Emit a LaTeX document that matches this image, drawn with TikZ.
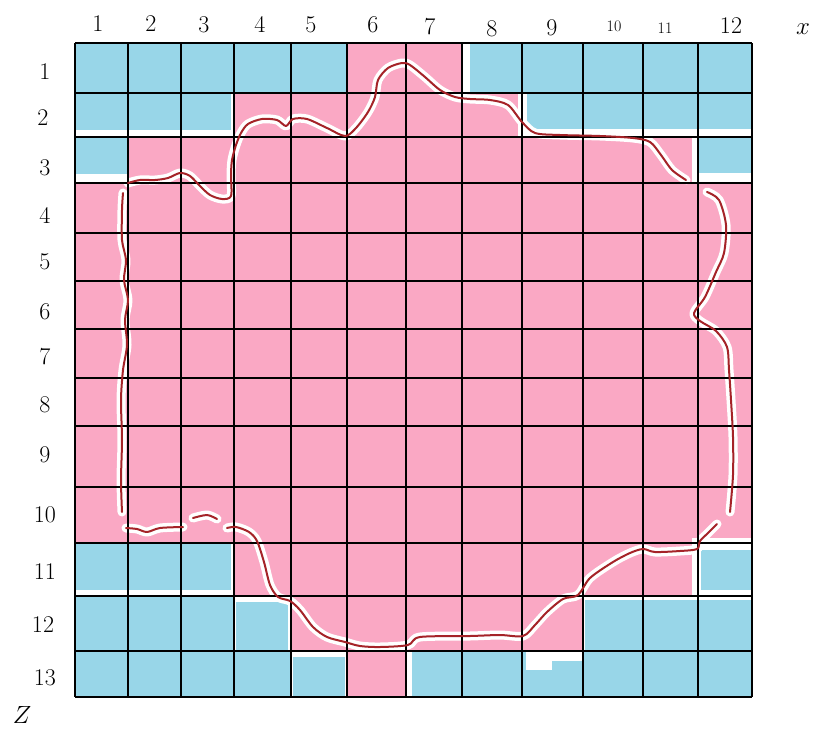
\documentclass[tikz,border=0pt]{standalone}
\usepackage{fontspec}
\definecolor{cellblue}{RGB}{152,214,232}
\definecolor{cellpink}{RGB}{250,168,196}
\definecolor{curvered}{RGB}{165,35,40}
\begin{document}
\begin{tikzpicture}[x=1pt,y=-1pt,
  lab/.style={font=\fontsize{24}{26}\selectfont, inner sep=0pt},
  smalllab/.style={font=\fontsize{16}{18}\selectfont, inner sep=0pt},
  gridline/.style={line width=2.6pt, black},
  halo/.style={white, line width=9pt, line cap=round, line join=round},
  outline/.style={curvered, line width=2pt, line cap=round, line join=round}]
\useasboundingbox (0,0) rectangle (814,731);
\fill[white] (0,0) rectangle (814,731);
% pink region
\fill[cellpink] (75,43) rectangle (752,697);
% blue blocks with white gaps
\fill[white] (75,43) rectangle (347,93);
\fill[cellblue] (75,43) rectangle (347,93);
\fill[white] (462,43) rectangle (752,93);
\fill[cellblue] (470,43) rectangle (752,93);
\fill[white] (75,93) rectangle (234,137);
\fill[cellblue] (75,93) rectangle (231,130);
\fill[white] (518,93) rectangle (752,137);
\fill[cellblue] (527,93) rectangle (752,129);
\fill[white] (75,137) rectangle (128,183);
\fill[cellblue] (75,137) rectangle (127,174);
\fill[white] (692,137) rectangle (752,183);
\fill[cellblue] (698,137) rectangle (752,173);
\fill[white] (75,543) rectangle (234,596);
\fill[cellblue] (75,543) rectangle (231,590);
\fill[white] (692,538) rectangle (752,596);
\fill[cellblue] (701,550) rectangle (752,590);
\fill[white] (75,596) rectangle (291,651);
\fill[cellblue] (75,596) rectangle (234,651);
\fill[cellblue] (236,602) rectangle (288,651);
\fill[white] (583,596) rectangle (752,651);
\fill[cellblue] (585,600) rectangle (752,651);
\fill[white] (75,651) rectangle (347,697);
\fill[cellblue] (75,651) rectangle (291,697);
\fill[cellblue] (293,657) rectangle (345,697);
\fill[white] (406,651) rectangle (752,697);
\fill[cellblue] (412,651) rectangle (752,697);
\fill[white] (526,651) rectangle (552,670);
\fill[white] (552,651) rectangle (583,661);
% curve paths
\def\pathA{(128,183) (140,180) (155,180) (168,178) (180,173) (190,176) (200,186) (210,195) (222,199) (231,196) (231,175) (232,160) (236,145) (241,133) (248,124) (262,119) (277,120) (286,126) (293,119) (307,119) (327,128) (345,136) (356,128) (368,112) (375,97) (378,80) (388,68) (402,63) (410,65) (425,77) (440,90) (455,97) (470,99) (490,100) (508,105) (522,122) (535,133) (560,135) (600,136) (633,138) (650,142) (661,155) (672,170) (686,180)}
\def\pathB{(707,192) (719,200) (726,225) (724,253) (716,272) (705,297) (694,313) (700,321) (716,331) (727,347) (729,370) (731,400) (733,437) (733,475) (730,512)}
\def\pathC{(717,524) (708,533) (700,541) (697,549) (680,551) (655,552) (643,549) (630,553) (613,562) (590,578) (578,595) (563,599) (547,612) (535,625) (523,636) (500,635) (470,636) (420,637) (408,645) (380,647) (360,646) (345,642) (327,637) (313,627) (300,610) (290,601) (278,597) (270,585) (264,562) (257,541) (249,532) (236,527) (227,528)}
\def\pathD{(193,518) (207,515) (217,519)}
\def\pathE{(126,528) (137,529) (147,532) (160,528) (183,527)}
\def\pathF{(122,512) (121,480) (122,440) (121,400) (123,370) (127,345) (125,320) (128,300) (124,280) (126,260) (122,240) (122,210) (123,193)}
\foreach \p in {\pathA,\pathB,\pathC,\pathD,\pathE,\pathF}{
  \draw[halo] plot[smooth, tension=0.5] coordinates {\p};
}
% grid
\foreach \gx in {75,128,181,234,291,347,406,462,522,583,643,698,752}
  \draw[gridline] (\gx,43) -- (\gx,697);
\foreach \gy in {43,93,137,183,233,281,329,378,426,487,543,596,651,697}
  \draw[gridline] (75,\gy) -- (752,\gy);
% red outline
\foreach \p in {\pathA,\pathB,\pathC,\pathD,\pathE,\pathF}{
  \draw[outline] plot[smooth, tension=0.5] coordinates {\p};
}
% column labels
\node[lab] (c1) at (98,24) {1};
\node[lab] (c2) at (151,24) {2};
\node[lab] (c3) at (204,25) {3};
\node[lab] (c4) at (260,24) {4};
\node[lab] (c5) at (311,25) {5};
\node[lab] (c6) at (373,25) {6};
\node[lab] (c7) at (430,27) {7};
\node[lab] (c8) at (492,29) {8};
\node[lab] (c9) at (552,28) {9};
\node[smalllab] (c10) at (614,26) {10};
\node[smalllab] (c11) at (665,28) {11};
\node[lab] (c12) at (731,26) {12};
\node[font=\fontsize{28}{30}\selectfont, inner sep=0pt] (xax) at (803,29) {$x$};
% row labels
\node[lab] (r1) at (45,72) {1};
\node[lab] (r2) at (43,118) {2};
\node[lab] (r3) at (45,168) {3};
\node[lab] (r4) at (45,215) {4};
\node[lab] (r5) at (45,262) {5};
\node[lab] (r6) at (45,312) {6};
\node[lab] (r7) at (45,357) {7};
\node[lab] (r8) at (45,405) {8};
\node[lab] (r9) at (45,455) {9};
\node[lab] (r10) at (45,515) {10};
\node[lab] (r11) at (45,572) {11};
\node[lab] (r12) at (43,625) {12};
\node[lab] (r13) at (45,678) {13};
\node[font=\fontsize{28}{30}\selectfont, inner sep=0pt] (zax) at (22,715) {$Z$};
\end{tikzpicture}
\end{document}
